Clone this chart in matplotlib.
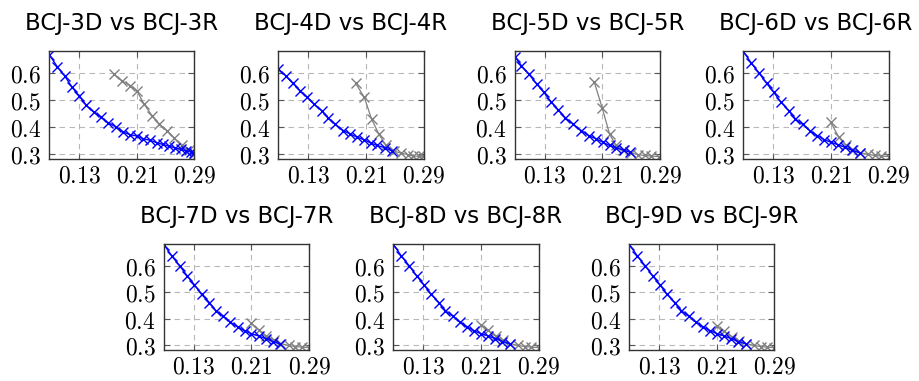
import matplotlib
matplotlib.use("Agg")
import matplotlib.pyplot as plt

## tick values shared by all panels
xticks = [0.13, 0.21, 0.29]
yticks = [0.3, 0.4, 0.5, 0.6]

## titles of the seven panels
titles = ["BCJ-3D vs BCJ-3R", "BCJ-4D vs BCJ-4R", "BCJ-5D vs BCJ-5R", "BCJ-6D vs BCJ-6R",
          "BCJ-7D vs BCJ-7R", "BCJ-8D vs BCJ-8R", "BCJ-9D vs BCJ-9R"]

## D curves (blue)
d3_x = [0.089, 0.0997, 0.110, 0.120, 0.130, 0.140, 0.150, 0.160, 0.170, 0.181, 0.191, 0.201,
        0.210, 0.219, 0.229, 0.238, 0.246, 0.254, 0.263, 0.271, 0.278, 0.285, 0.290]
d3_y = [0.668, 0.625, 0.591, 0.550, 0.517, 0.482, 0.457, 0.439, 0.418, 0.402, 0.383, 0.373,
        0.368, 0.358, 0.352, 0.343, 0.337, 0.331, 0.324, 0.319, 0.313, 0.309, 0.306]
d4_x = [0.089, 0.099, 0.109, 0.119, 0.129, 0.138, 0.149, 0.158, 0.168, 0.179, 0.188, 0.198,
        0.208, 0.217, 0.226, 0.236, 0.247]
d4_y = [0.616, 0.591, 0.563, 0.536, 0.511, 0.487, 0.462, 0.435, 0.411, 0.388, 0.376, 0.364,
        0.354, 0.342, 0.333, 0.325, 0.312]
d5_x = [0.089, 0.098, 0.108, 0.119, 0.129, 0.139, 0.149, 0.159, 0.170, 0.181, 0.191, 0.201,
        0.211, 0.220, 0.229, 0.240, 0.249]
d5_y = [0.662, 0.628, 0.598, 0.561, 0.530, 0.495, 0.465, 0.435, 0.411, 0.388, 0.370, 0.358,
        0.345, 0.333, 0.325, 0.315, 0.309]
d6_x = [0.089, 0.100, 0.111, 0.121, 0.131, 0.141, 0.152, 0.161, 0.171, 0.181, 0.191, 0.201,
        0.210, 0.220, 0.230, 0.240, 0.250]
d6_y = [0.681, 0.637, 0.600, 0.563, 0.530, 0.493, 0.462, 0.431, 0.411, 0.388, 0.370, 0.355,
        0.345, 0.336, 0.326, 0.315, 0.306]

## R curves (gray)
r3_x = [0.178, 0.189, 0.201, 0.210, 0.220, 0.231, 0.241, 0.252, 0.262, 0.272, 0.282, 0.290]
r3_y = [0.598, 0.573, 0.555, 0.536, 0.487, 0.444, 0.413, 0.388, 0.361, 0.333, 0.315, 0.303]
r4_x = [0.196, 0.208, 0.218, 0.228, 0.238, 0.249, 0.259, 0.268, 0.276, 0.284, 0.289]
r4_y = [0.563, 0.511, 0.431, 0.376, 0.333, 0.312, 0.305, 0.299, 0.294, 0.293, 0.293]
r5_x = [0.199, 0.210, 0.220, 0.229, 0.239, 0.250, 0.260, 0.269, 0.278, 0.288]
r5_y = [0.567, 0.471, 0.376, 0.333, 0.318, 0.305, 0.299, 0.296, 0.294, 0.292]
r6_x = [0.210, 0.221, 0.231, 0.241, 0.251, 0.262, 0.271, 0.280, 0.290]
r6_y = [0.419, 0.364, 0.333, 0.317, 0.306, 0.300, 0.296, 0.294, 0.292]
r7_x = [0.210, 0.220, 0.231, 0.241, 0.251, 0.262, 0.271, 0.280, 0.290]
r7_y = [0.384, 0.359, 0.335, 0.320, 0.307, 0.300, 0.296, 0.294, 0.292]
r8_x = [0.210, 0.220, 0.231, 0.241, 0.251, 0.262, 0.271, 0.280, 0.290]
r8_y = [0.377, 0.357, 0.334, 0.319, 0.307, 0.300, 0.296, 0.294, 0.292]
r9_x = [0.210, 0.220, 0.231, 0.241, 0.251, 0.262, 0.271, 0.280, 0.290]
r9_y = [0.372, 0.354, 0.333, 0.318, 0.307, 0.300, 0.296, 0.294, 0.292]

d_curves = [(d3_x, d3_y), (d4_x, d4_y), (d5_x, d5_y), (d6_x, d6_y),
            (d6_x, d6_y), (d6_x, d6_y), (d6_x, d6_y)]
r_curves = [(r3_x, r3_y), (r4_x, r4_y), (r5_x, r5_y), (r6_x, r6_y),
            (r7_x, r7_y), (r8_x, r8_y), (r9_x, r9_y)]

plt.rcParams['mathtext.fontset'] = 'cm'

fig = plt.figure(figsize=(9.2, 3.81), dpi=100)
W, H = 920.0, 381.0

## axes boxes in pixels: left, top, right, bottom
boxes = [(49.5, 51, 194.5, 159), (278.5, 51, 423.5, 159), (515, 51, 660, 159), (743.5, 51, 888.5, 159),
         (164, 244, 309, 350), (393.5, 244, 538.5, 350), (629.5, 244, 774.5, 350)]

for i in range(7):
    l, t, r, b = boxes[i]
    ax = fig.add_axes([l / W, 1 - b / H, (r - l) / W, (b - t) / H])

    ## plot both curves
    ax.plot(r_curves[i][0], r_curves[i][1], color='#808080', marker='x', markersize=7.5,
            markeredgewidth=1.0, linewidth=0.9)
    ax.plot(d_curves[i][0], d_curves[i][1], color='#0000ff', marker='x', markersize=7.5,
            markeredgewidth=1.0, linewidth=1.0)

    ## axis setup
    ax.set_xlim(0.089, 0.29)
    ax.set_ylim(0.283, 0.683)
    ax.set_xticks(xticks)
    ax.set_yticks(yticks)
    ax.set_xticklabels(['$%s$' % v for v in xticks], fontsize=17)
    ax.set_yticklabels(['$%s$' % v for v in yticks], fontsize=17)
    ax.tick_params(direction='in', top=True, right=True, length=4, width=0.8, color='#555555')
    ax.tick_params(axis='x', pad=3)
    ax.tick_params(axis='y', pad=6)
    ax.grid(color='#b8b8b8', linestyle=(0, (5, 4)), linewidth=0.8)
    ax.set_axisbelow(True)
    for s in ax.spines.values():
        s.set_color('#333333')
        s.set_linewidth(1.0)

    ax.set_title(titles[i], fontsize=16.5, pad=15)

plt.savefig('out.png', dpi=100)
